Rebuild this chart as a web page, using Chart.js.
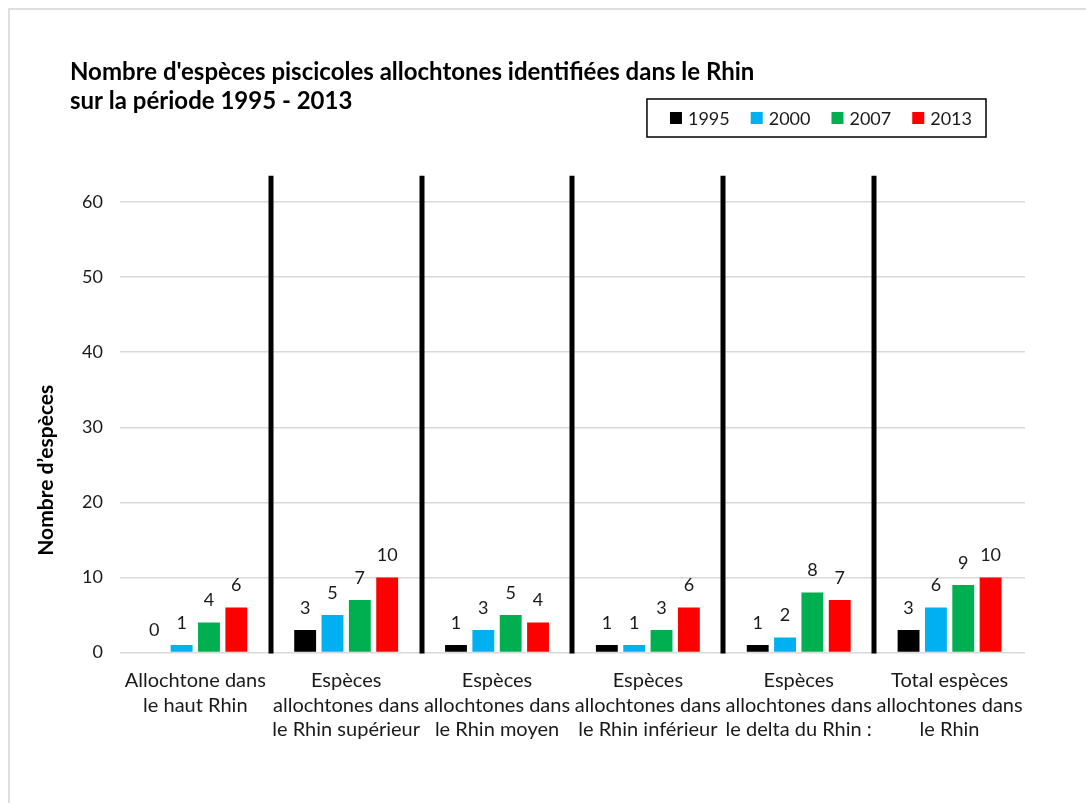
<!DOCTYPE html>
<html lang="fr">
<head>
<meta charset="utf-8">
<title>Espèces piscicoles allochtones dans le Rhin</title>
<script src="https://cdn.jsdelivr.net/npm/chart.js@4.4.1/dist/chart.umd.min.js"></script>
<style>
    html, body { margin: 0; padding: 0; background: #ffffff; }
    #wrap { position: relative; width: 1086px; height: 803px; }
    #frame {
        position: absolute; left: 8px; top: 8px; right: 0; bottom: 0;
        border-left: 2px solid #dedede; border-top: 2px solid #dedede;
        pointer-events: none;
    }
</style>
</head>
<body>
<div id="wrap">
    <canvas id="speciesChart" width="1086" height="803"></canvas>
    <div id="frame"></div>
</div>
<script>
var categoryLabels = [
    ['Allochtone dans', 'le haut Rhin'],
    ['Espèces', 'allochtones dans', 'le Rhin supérieur'],
    ['Espèces', 'allochtones dans', 'le Rhin moyen'],
    ['Espèces', 'allochtones dans', 'le Rhin inférieur'],
    ['Espèces', 'allochtones dans', 'le delta du Rhin :'],
    ['Total espèces', 'allochtones dans', 'le Rhin']
];
var yearLabels = ['1995', '2000', '2007', '2013'];
var values1995 = [0, 3, 1, 1, 1, 3];
var values2000 = [1, 5, 3, 1, 2, 6];
var values2007 = [4, 7, 5, 3, 8, 9];
var values2013 = [6, 10, 4, 6, 7, 10];
var yearColors = ['#000000', '#00B0F0', '#00B050', '#FF0000'];
var yAxisMax = 60;
var yAxisStep = 10;
var separatorTop = 63.5;
var chartTitle = ["Nombre d'espèces piscicoles allochtones identifiées dans le Rhin", 'sur la période 1995 - 2013'];
var yAxisTitle = 'Nombre d’espèces';

(function (window) {
    'use strict';

    var textColor = '#1a1a1a';
    var fontFamily = 'Lato, "Open Sans", sans-serif';

    // thick black lines between the groups
    var separatorPlugin = {
        id: 'groupSeparators',
        afterDatasetsDraw: function (chart) {
            var ctx = chart.ctx;
            var xScale = chart.scales.x;
            var yScale = chart.scales.y;
            ctx.save();
            ctx.strokeStyle = '#000000';
            ctx.lineWidth = 5;
            for (var i = 0; i < categoryLabels.length - 1; i++) {
                var x = Math.round((xScale.getPixelForValue(i) + xScale.getPixelForValue(i + 1)) / 2);
                ctx.beginPath();
                ctx.moveTo(x, yScale.getPixelForValue(0) + 1);
                ctx.lineTo(x, yScale.getPixelForValue(separatorTop));
                ctx.stroke();
            }
            ctx.restore();
        }
    };

    var valueLabelPlugin = {
        id: 'valueLabels',
        afterDatasetsDraw: function (chart) {
            var ctx = chart.ctx;
            ctx.save();
            ctx.font = '18px ' + fontFamily;
            ctx.fillStyle = textColor;
            ctx.textAlign = 'center';
            ctx.textBaseline = 'middle';
            chart.data.datasets.forEach(function (dataset, d) {
                var meta = chart.getDatasetMeta(d);
                meta.data.forEach(function (bar, i) {
                    ctx.fillText(String(dataset.data[i]), bar.x, bar.y - 22);
                });
            });
            ctx.restore();
        }
    };

    // title, boxed legend and y axis title
    var headerPlugin = {
        id: 'header',
        afterDraw: function (chart) {
            var ctx = chart.ctx;
            var area = chart.chartArea;
            ctx.save();

            ctx.fillStyle = '#000000';
            ctx.font = 'bold 24px ' + fontFamily;
            ctx.textAlign = 'left';
            ctx.textBaseline = 'middle';
            chartTitle.forEach(function (line, i) {
                ctx.fillText(line, 70, area.top - 130 + i * 29);
            });

            ctx.font = '18px ' + fontFamily;
            var widths = chart.data.datasets.map(function (ds) { return ctx.measureText(ds.label).width; });
            var total = 23 + 14 + 21 * (widths.length - 1);
            widths.forEach(function (w) { total += 12 + 6 + w; });
            var boxRight = area.right - 39;
            var boxLeft = boxRight - total;
            var boxTop = area.top - 103;
            ctx.strokeStyle = '#000000';
            ctx.lineWidth = 1.5;
            ctx.strokeRect(boxLeft, boxTop, total, 38);
            var x = boxLeft + 23;
            var cy = boxTop + 19;
            chart.data.datasets.forEach(function (ds, i) {
                ctx.fillStyle = ds.backgroundColor;
                ctx.fillRect(x, cy - 6, 12, 12);
                ctx.fillStyle = textColor;
                ctx.fillText(ds.label, x + 18, cy + 1);
                x += 12 + 6 + widths[i] + 21;
            });

            ctx.translate(46, (area.top + area.bottom) / 2 + 43);
            ctx.rotate(-Math.PI / 2);
            ctx.textAlign = 'center';
            ctx.font = 'bold 21px ' + fontFamily;
            ctx.fillStyle = '#000000';
            ctx.fillText(yAxisTitle, 0, 0);
            ctx.restore();
        }
    };

    function createSpeciesChart(canvas) {
        var series = [values1995, values2000, values2007, values2013];
        return new Chart(canvas, {
            type: 'bar',
            data: {
                labels: categoryLabels,
                datasets: series.map(function (values, i) {
                    return {
                        label: yearLabels[i],
                        data: values,
                        backgroundColor: yearColors[i],
                        borderWidth: 0,
                        barPercentage: 0.8,
                        categoryPercentage: 0.725
                    };
                })
            },
            options: {
                responsive: false,
                animation: false,
                layout: {
                    padding: { top: 202, left: 65, right: 61, bottom: 53 }
                },
                plugins: {
                    legend: { display: false },
                    title: { display: false },
                    tooltip: { enabled: false }
                },
                scales: {
                    x: {
                        grid: { display: false },
                        border: { display: false },
                        ticks: {
                            autoSkip: false,
                            maxRotation: 0,
                            padding: 8,
                            color: textColor,
                            font: { family: fontFamily, size: 20, lineHeight: 1.225 }
                        }
                    },
                    y: {
                        min: 0,
                        max: yAxisMax,
                        grid: { color: '#d9d9d9', lineWidth: 1.5, drawTicks: false },
                        border: { display: false },
                        ticks: {
                            stepSize: yAxisStep,
                            padding: 17,
                            color: textColor,
                            font: { family: fontFamily, size: 18 }
                        }
                    }
                }
            },
            plugins: [separatorPlugin, valueLabelPlugin, headerPlugin]
        });
    }

    window.speciesChart = createSpeciesChart(document.getElementById('speciesChart'));
})(window);
</script>
</body>
</html>
